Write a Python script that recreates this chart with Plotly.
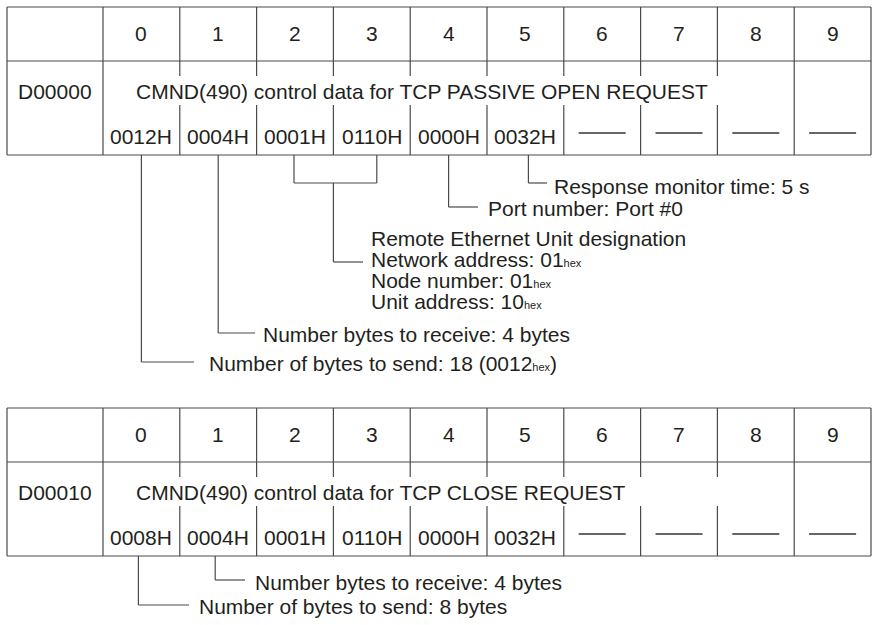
import plotly.graph_objects as go

# ---------------- data ----------------
columns = ["0", "1", "2", "3", "4", "5", "6", "7", "8", "9"]
addresses = ["D00000", "D00010"]
titles = [
    "CMND(490) control data for TCP PASSIVE OPEN REQUEST",
    "CMND(490) control data for TCP CLOSE REQUEST",
]
words_open = ["0012H", "0004H", "0001H", "0110H", "0000H", "0032H", "", "", "", ""]
words_close = ["0008H", "0004H", "0001H", "0110H", "0000H", "0032H", "", "", "", ""]
table_words = [words_open, words_close]

HEX = '<span style="font-size:11px">hex</span>'
notes_open_single = [
    "Number of bytes to send: 18 (0012" + HEX + ")",
    "Number bytes to receive: 4 bytes",
    "Port number: Port #0",
    "Response monitor time: 5 s",
]
notes_open_remote = [
    "Remote Ethernet Unit designation",
    "Network address: 01" + HEX,
    "Node number: 01" + HEX,
    "Unit address: 10" + HEX,
]
notes_close = [
    "Number of bytes to send: 8 bytes",
    "Number bytes to receive: 4 bytes",
]

# ---------------- layout geometry ----------------
W, H = 874, 625
LEFT, LABEL_W, COL_W = 7, 96, 76.8
RIGHT = LEFT + LABEL_W + COL_W * 10
TOPS = [7, 408]
HEAD_H, BODY_H = 54, 94
GAP_A, GAP_B = 15, 44
LINE_C = "#4a4a4a"
TEXT_C = "#231f20"
FONT = "Liberation Sans, Arial, Helvetica, sans-serif"
FS = 21


def col_left(i):
    return LEFT + LABEL_W + COL_W * i


def col_c(i):
    return LEFT + LABEL_W + COL_W * (i + 0.5)


shapes = []
annotations = []


def line(x0, y0, x1, y1, color=LINE_C, width=1.2):
    shapes.append(dict(type="line", xref="x", yref="y", x0=x0, y0=y0, x1=x1, y1=y1,
                       line=dict(color=color, width=width)))


def text(x, y, s, anchor="center", size=FS):
    annotations.append(dict(x=x, y=y, xref="x", yref="y", text=s, showarrow=False,
                            xanchor=anchor, yanchor="middle",
                            font=dict(family=FONT, size=size, color=TEXT_C)))


for t, top in enumerate(TOPS):
    hb = top + HEAD_H
    bot = hb + BODY_H
    for y in (top, hb, bot):
        line(LEFT, y, RIGHT, y)
    for x in (LEFT, col_left(0), RIGHT):
        line(x, top, x, bot)
    for k in range(1, 10):
        x = col_left(k)
        line(x, top, x, hb)
        if k <= 8:
            line(x, hb, x, hb + GAP_A)
            line(x, hb + GAP_B, x, bot)
        else:
            line(x, hb, x, bot)
    for i, c in enumerate(columns):
        text(col_c(i), top + 26, c)
    text(LEFT + LABEL_W / 2, hb + 30, addresses[t])
    text(col_left(0) + 31, hb + 30, titles[t], anchor="left")
    for i, w in enumerate(table_words[t]):
        if w:
            text(col_c(i), hb + 75, w)
        else:
            line(col_c(i) - 23.5, hb + 72, col_c(i) + 23.5, hb + 72, color="#333333", width=1.3)

# ---- connectors, table 1 ----
b1 = TOPS[0] + HEAD_H + BODY_H
line(col_c(0), b1, col_c(0), 362); line(col_c(0), 362, 194, 362)
text(207, 363, notes_open_single[0], anchor="left")
line(col_c(1), b1, col_c(1), 333); line(col_c(1), 333, 255, 333)
text(261, 334, notes_open_single[1], anchor="left")
bl, br, bm = col_c(2) - 1, col_c(3) + 5, col_left(3)
line(bl, b1, bl, 183); line(br, b1, br, 183); line(bl, 183, br, 183)
line(bm, 183, bm, 262); line(bm, 262, 363, 262)
for j, s in enumerate(notes_open_remote):
    text(369, 238 + 21.3 * j, s, anchor="left")
line(col_c(4), b1, col_c(4), 207); line(col_c(4), 207, 478, 207)
text(486, 208, notes_open_single[2], anchor="left")
x5 = col_c(5) + 3
line(x5, b1, x5, 183); line(x5, 183, 547, 183)
text(552, 186, notes_open_single[3], anchor="left")

# ---- connectors, table 2 ----
b2 = TOPS[1] + HEAD_H + BODY_H
x0 = col_c(0) - 3
line(x0, b2, x0, 605); line(x0, 605, 189, 605)
text(197, 606, notes_close[0], anchor="left")
x1 = col_c(1) - 3
line(x1, b2, x1, 580); line(x1, 580, 245, 580)
text(253, 582, notes_close[1], anchor="left")

fig = go.Figure()
fig.update_layout(
    width=W, height=H,
    margin=dict(l=0, r=0, t=0, b=0),
    paper_bgcolor="white", plot_bgcolor="white",
    xaxis=dict(range=[0, W], visible=False, fixedrange=True),
    yaxis=dict(range=[H, 0], visible=False, fixedrange=True),
    shapes=shapes, annotations=annotations, showlegend=False,
)
fig.write_html(
    "out.html",
    config={"displayModeBar": False},
    post_script="document.body.style.margin='0';document.body.style.overflow='hidden';",
)
